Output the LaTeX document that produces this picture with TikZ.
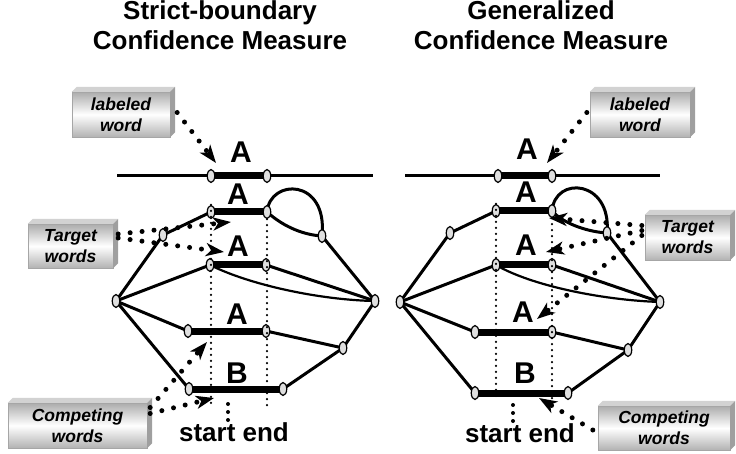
\documentclass[tikz,border=0pt]{standalone}
\usepackage{fontspec}
\setmainfont{Liberation Sans}
\usepackage{tikz}
\usetikzlibrary{arrows.meta,calc,shapes.geometric,backgrounds}

\begin{document}
\begin{tikzpicture}[x=1pt,y=-1pt,
  >={Stealth[length=18pt,width=13pt,inset=5pt]},
  title/.style={font=\fontsize{26}{30}\selectfont\bfseries,align=center,anchor=north,inner sep=0},
  letter/.style={font=\fontsize{30}{30}\selectfont\bfseries,anchor=base,inner sep=0},
  tag/.style={font=\fontsize{17.5}{21}\selectfont\bfseries\itshape,align=center,inner sep=0,
    draw=gray!70,top color=gray!65,bottom color=gray!60,middle color=white},
  knot/.style={ellipse,draw,line width=1.2pt,fill=gray!25,minimum width=7.5pt,minimum height=13pt,inner sep=0},
  wire/.style={line width=3pt},
  bar/.style={line width=7pt},
  guide/.style={line width=2.4pt,line cap=round,dash pattern=on 0pt off 6pt},
  stub/.style={line width=4pt,line cap=round,dash pattern=on 0pt off 8pt},
  pointer/.style={->,line width=5pt,line cap=round,dash pattern=on 0pt off 12pt}]
  \useasboundingbox (0,0) rectangle (736,454);

  % headings
  \node[title] (Ltitle) at (220,0) {Strict-boundary\\Confidence Measure};
  \node[title] (Rtitle) at (541,0) {Generalized\\Confidence Measure};

  % strict-boundary lattice
  \coordinate (L0a) at (117,176);
  \coordinate (L0b) at (373,176);
  \node[knot] (L0s) at (211,176) {};
  \node[knot] (L0e) at (267,176) {};
  \node[knot] (L1s) at (211,212) {};
  \node[knot] (L1e) at (267,212) {};
  \node[knot] (Lq) at (163,235) {};
  \node[knot] (Lp) at (322,236) {};
  \node[knot] (L2s) at (210,265) {};
  \node[knot] (L2e) at (266,265) {};
  \node[knot] (L3s) at (188,331) {};
  \node[knot] (L3e) at (266,331) {};
  \node[knot] (L4s) at (189,389) {};
  \node[knot] (L4e) at (283,389) {};
  \node[knot] (Ll) at (116,301) {};
  \node[knot] (Lr) at (375,301) {};
  \node[knot] (Lm) at (343,348) {};

  % generalized lattice
  \coordinate (R0a) at (405,176);
  \coordinate (R0b) at (660,176);
  \node[knot] (R0s) at (498,176) {};
  \node[knot] (R0e) at (552,176) {};
  \node[knot] (R1s) at (496,211) {};
  \node[knot] (R1e) at (552,211) {};
  \node[knot] (Rq) at (450,233) {};
  \node[knot] (Rp) at (607,233) {};
  \node[knot] (R2s) at (496,265) {};
  \node[knot] (R2e) at (552,265) {};
  \node[knot] (R3s) at (475,332) {};
  \node[knot] (R3e) at (552,332) {};
  \node[knot] (R4s) at (475,393) {};
  \node[knot] (R4e) at (568,393) {};
  \node[knot] (Rl) at (400,302) {};
  \node[knot] (Rr) at (660,302) {};
  \node[knot] (Rm) at (628,350) {};

  \begin{scope}[on background layer]
    \foreach \a/\b in {L0a/L0s,L0e/L0b,Ll/Lq,Lq/L1s,Lp/Lr,Ll/L2s,L2e/Lr,Ll/L3s,L3e/Lm,Lm/Lr,Ll/L4s,L4e/Lm,
                       R0a/R0s,R0e/R0b,Rl/Rq,Rq/R1s,Rp/Rr,Rl/R2s,R2e/Rr,Rl/R3s,R3e/Rm,Rm/Rr,Rl/R4s,R4e/Rm}
      \draw[wire] (\a.center) -- (\b.center);
    \foreach \row in {L0,L1,L2,L3,L4,R0,R1,R2,R3,R4}
      \draw[bar] (\row s.center) -- (\row e.center);
    % loops and bypass arcs
    \draw[wire] (L1e.center) .. controls (270,178) and (328,178) .. (Lp.center);
    \draw[wire] (L1e.center) .. controls (285,228) and (305,235) .. (Lp.center);
    \draw[line width=2.2pt] (L2s.center) .. controls (250,285) and (320,300) .. (Lr.center);
    \draw[wire] (R1e.center) .. controls (555,175) and (612,180) .. (Rp.center);
    \draw[wire] (R1e.center) .. controls (565,225) and (590,232) .. (Rp.center);
    \draw[line width=2.2pt] (R2s.center) .. controls (530,285) and (600,300) .. (Rr.center);
  \end{scope}

  % word labels
  \node[letter] (La0) at (241,163) {A};
  \node[letter] (La1) at (238,205) {A};
  \node[letter] (La2) at (238,257) {A};
  \node[letter] (La3) at (237,324) {A};
  \node[letter] (Lb4) at (237,383) {B};
  \node[letter] (Ra0) at (527,160) {A};
  \node[letter] (Ra1) at (526,203) {A};
  \node[letter] (Ra2) at (526,256) {A};
  \node[letter] (Ra3) at (523,322) {A};
  \node[letter] (Rb4) at (525,383) {B};

  % start / end markers
  \node[letter,font=\fontsize{26}{26}\selectfont\bfseries] (Lse) at (234,441) {start end};
  \node[letter,font=\fontsize{26}{26}\selectfont\bfseries] (Rse) at (520,442) {start end};
  \coordinate (Lfoot) at (0,406);
  \coordinate (Rfoot) at (0,400);
  \draw[guide] (L1s.north) -- (L1s |- Lfoot);
  \draw[guide] (L1e.south) -- (L1e |- Lfoot);
  \draw[guide] (R1s.north) -- (R1s |- Rfoot);
  \draw[guide] (R1e.south) -- (R1e |- Rfoot);
  \coordinate (Lst) at (228,404);
  \coordinate (Rst) at (513,405);
  \draw[stub] (Lst) -- (Lst |- Lse.north);
  \draw[stub] (Rst) -- (Rst |- Rse.north);

  % callout boxes
  \node[tag,minimum width=98pt,minimum height=45pt] (Lw) at (121,114.5) {labeled\\word};
  \node[tag,minimum width=85pt,minimum height=44pt] (Lt) at (70.5,246) {Target\\words};
  \node[tag,minimum width=139pt,minimum height=45pt] (Lc) at (77.5,425.5) {Competing\\words};
  \node[tag,minimum width=100pt,minimum height=45pt] (Rw) at (640,114.5) {labeled\\word};
  \node[tag,minimum width=85pt,minimum height=45pt] (Rt) at (687.5,237.5) {Target\\words};
  \node[tag,minimum width=132pt,minimum height=44pt] (Rc) at (664,428) {Competing\\words};
  \foreach \b in {Lw,Lt,Lc,Rw,Rt,Rc} {
    \fill[gray!35] (\b.north west) -- ++(5,-5) -- ($(\b.north east)+(5,-5)$) -- (\b.north east) -- cycle;
    \fill[gray!75] (\b.north east) -- ++(5,-5) -- ($(\b.south east)+(5,-5)$) -- (\b.south east) -- cycle;
  }

  % callout arrows
  \coordinate (Lwa) at (216,163);
  \coordinate (Lta) at (231,222);
  \coordinate (Ltb) at (224,252);
  \coordinate (Lca) at (207,342);
  \coordinate (Lcb) at (214,398);
  \coordinate (Rwa) at (547,163);
  \coordinate (Rta) at (549,218);
  \coordinate (Rtb) at (546,252);
  \coordinate (Rtc) at (537,319);
  \coordinate (Rca) at (539,398);
  \draw[pointer] ([xshift=7pt,yshift=2pt]Lw.east) -- (Lwa);
  \draw[pointer] ([xshift=5pt,yshift=12pt]Lt.east) -- (Lta);
  \draw[pointer] ([xshift=5pt,yshift=8pt]Lt.east) -- (Ltb);
  \draw[pointer] ([xshift=3pt,yshift=18pt]Lc.east) -- (Lca);
  \draw[pointer] ([xshift=3pt,yshift=12pt]Lc.east) -- (Lcb);
  \draw[pointer] ([xshift=-3pt,yshift=2pt]Rw.west) -- (Rwa);
  \draw[pointer] ([xshift=-3pt,yshift=12pt]Rt.west) -- (Rta);
  \draw[pointer] ([xshift=-3pt,yshift=7pt]Rt.west) -- (Rtb);
  \draw[pointer] ([xshift=-3pt,yshift=2pt]Rt.west) -- (Rtc);
  \draw[pointer] ([xshift=-5pt,yshift=-2pt]Rc.west) -- (Rca);
\end{tikzpicture}
\end{document}
